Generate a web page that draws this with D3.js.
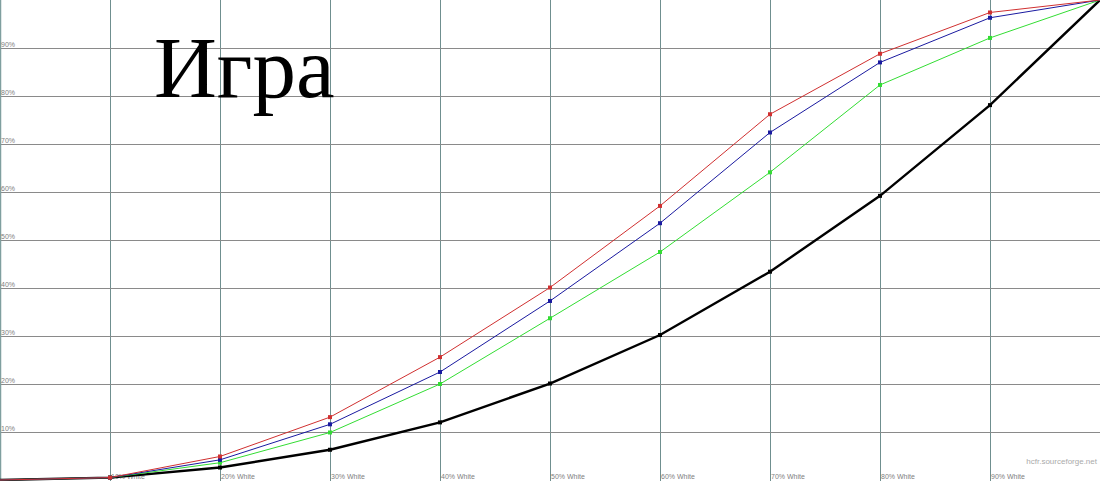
<!DOCTYPE html>
<html>
<head>
<meta charset="utf-8">
<script src="https://cdn.jsdelivr.net/npm/d3@7"></script>
<style>
  html, body { margin: 0; padding: 0; background: #fff; }
  svg { display: block; }
</style>
</head>
<body>
<div id="chart"></div>
<script>
// stimulus levels (% white) and measured luminance (%)
const levels = [0, 10, 20, 30, 40, 50, 60, 70, 80, 90, 100];
const redValues   = [0, 0.5, 4.9, 13.1, 25.6, 40.1, 57.1, 76.2, 88.8, 97.4, 100];
const blueValues  = [0, 0.5, 4.2, 11.6, 22.5, 37.3, 53.5, 72.4, 87.0, 96.3, 100];
const greenValues = [0, 0.5, 3.6, 9.9, 20.0, 33.7, 47.5, 64.1, 82.3, 92.1, 100];
const blackValues = [0, 0.5, 2.6, 6.3, 12.0, 20.1, 30.2, 43.4, 59.2, 78.1, 100];
const xTickLabels = ["10% White", "20% White", "30% White", "40% White", "50% White",
  "60% White", "70% White", "80% White", "90% White"];
const yTickLabels = ["10%", "20%", "30%", "40%", "50%", "60%", "70%", "80%", "90%"];
const title = "Игра";

const width = 1100, height = 481;

const svg = d3.select("#chart").append("svg")
  .attr("width", width)
  .attr("height", height);

const x = d3.scaleLinear().domain([0, 100]).range([0, 1100]);
const y = d3.scaleLinear().domain([0, 100]).range([480, 0]);

const gridG = svg.append("g");
const crisp = (v) => Math.round(v) + 0.5;

// vertical grid
gridG.selectAll("line.v").data(levels.slice(1, 10)).join("line")
  .attr("class", "v")
  .attr("x1", (d) => crisp(x(d))).attr("x2", (d) => crisp(x(d)))
  .attr("y1", 0).attr("y2", height)
  .attr("stroke", "#6f8f8f").attr("stroke-width", 1);

// left border
svg.append("line")
  .attr("x1", 0.5).attr("x2", 0.5).attr("y1", 0).attr("y2", height)
  .attr("stroke", "#7f9f9f").attr("stroke-width", 1.5);

// horizontal grid
gridG.selectAll("line.h").data(levels.slice(1, 10)).join("line")
  .attr("class", "h")
  .attr("x1", 0).attr("x2", width)
  .attr("y1", (d) => crisp(y(d))).attr("y2", (d) => crisp(y(d)))
  .attr("stroke", "#8a8a8a").attr("stroke-width", 1);

// y labels
svg.append("g").selectAll("text").data(yTickLabels).join("text")
  .attr("x", 1)
  .attr("y", (d, i) => y(levels[i + 1]) - 1)
  .attr("font-family", "Liberation Sans, Arial, sans-serif")
  .attr("font-size", 7)
  .attr("fill", "#808080")
  .text((d) => d);

// x labels
svg.append("g").selectAll("text").data(xTickLabels).join("text")
  .attr("x", (d, i) => x(levels[i + 1]) + 1)
  .attr("y", 479)
  .attr("font-family", "Liberation Sans, Arial, sans-serif")
  .attr("font-size", 7)
  .attr("fill", "#808080")
  .text((d) => d);

// watermark
svg.append("text")
  .attr("x", 1097).attr("y", 464)
  .attr("text-anchor", "end")
  .attr("font-family", "Liberation Sans, Arial, sans-serif")
  .attr("font-size", 8)
  .attr("fill", "#aaa")
  .text("hcfr.sourceforge.net");

// title
svg.append("text")
  .attr("x", 154).attr("y", 97)
  .attr("font-family", "Liberation Serif, Times New Roman, serif")
  .attr("font-size", 87)
  .attr("fill", "#000")
  .text(title);

const series = [
  { values: blackValues, color: "#000000", w: 2.4 },
  { values: greenValues, color: "#33dd33", w: 1 },
  { values: blueValues, color: "#1a1aa0", w: 1 },
  { values: redValues, color: "#d03030", w: 1 },
];

const line = d3.line()
  .x((d) => x(d[0]))
  .y((d) => y(d[1]));

const linesG = svg.append("g");
series.forEach((s) => {
  const pts = levels.map((l, i) => [l, s.values[i]]);
  linesG.append("path")
    .datum(pts)
    .attr("d", line)
    .attr("fill", "none")
    .attr("stroke", s.color)
    .attr("stroke-width", s.w);
  linesG.append("g").selectAll("rect").data(pts.slice(1, 10)).join("rect")
    .attr("x", (d) => x(d[0]) - 2)
    .attr("y", (d) => y(d[1]) - 2)
    .attr("width", 4)
    .attr("height", 4)
    .attr("fill", s.color);
});
</script>
</body>
</html>
